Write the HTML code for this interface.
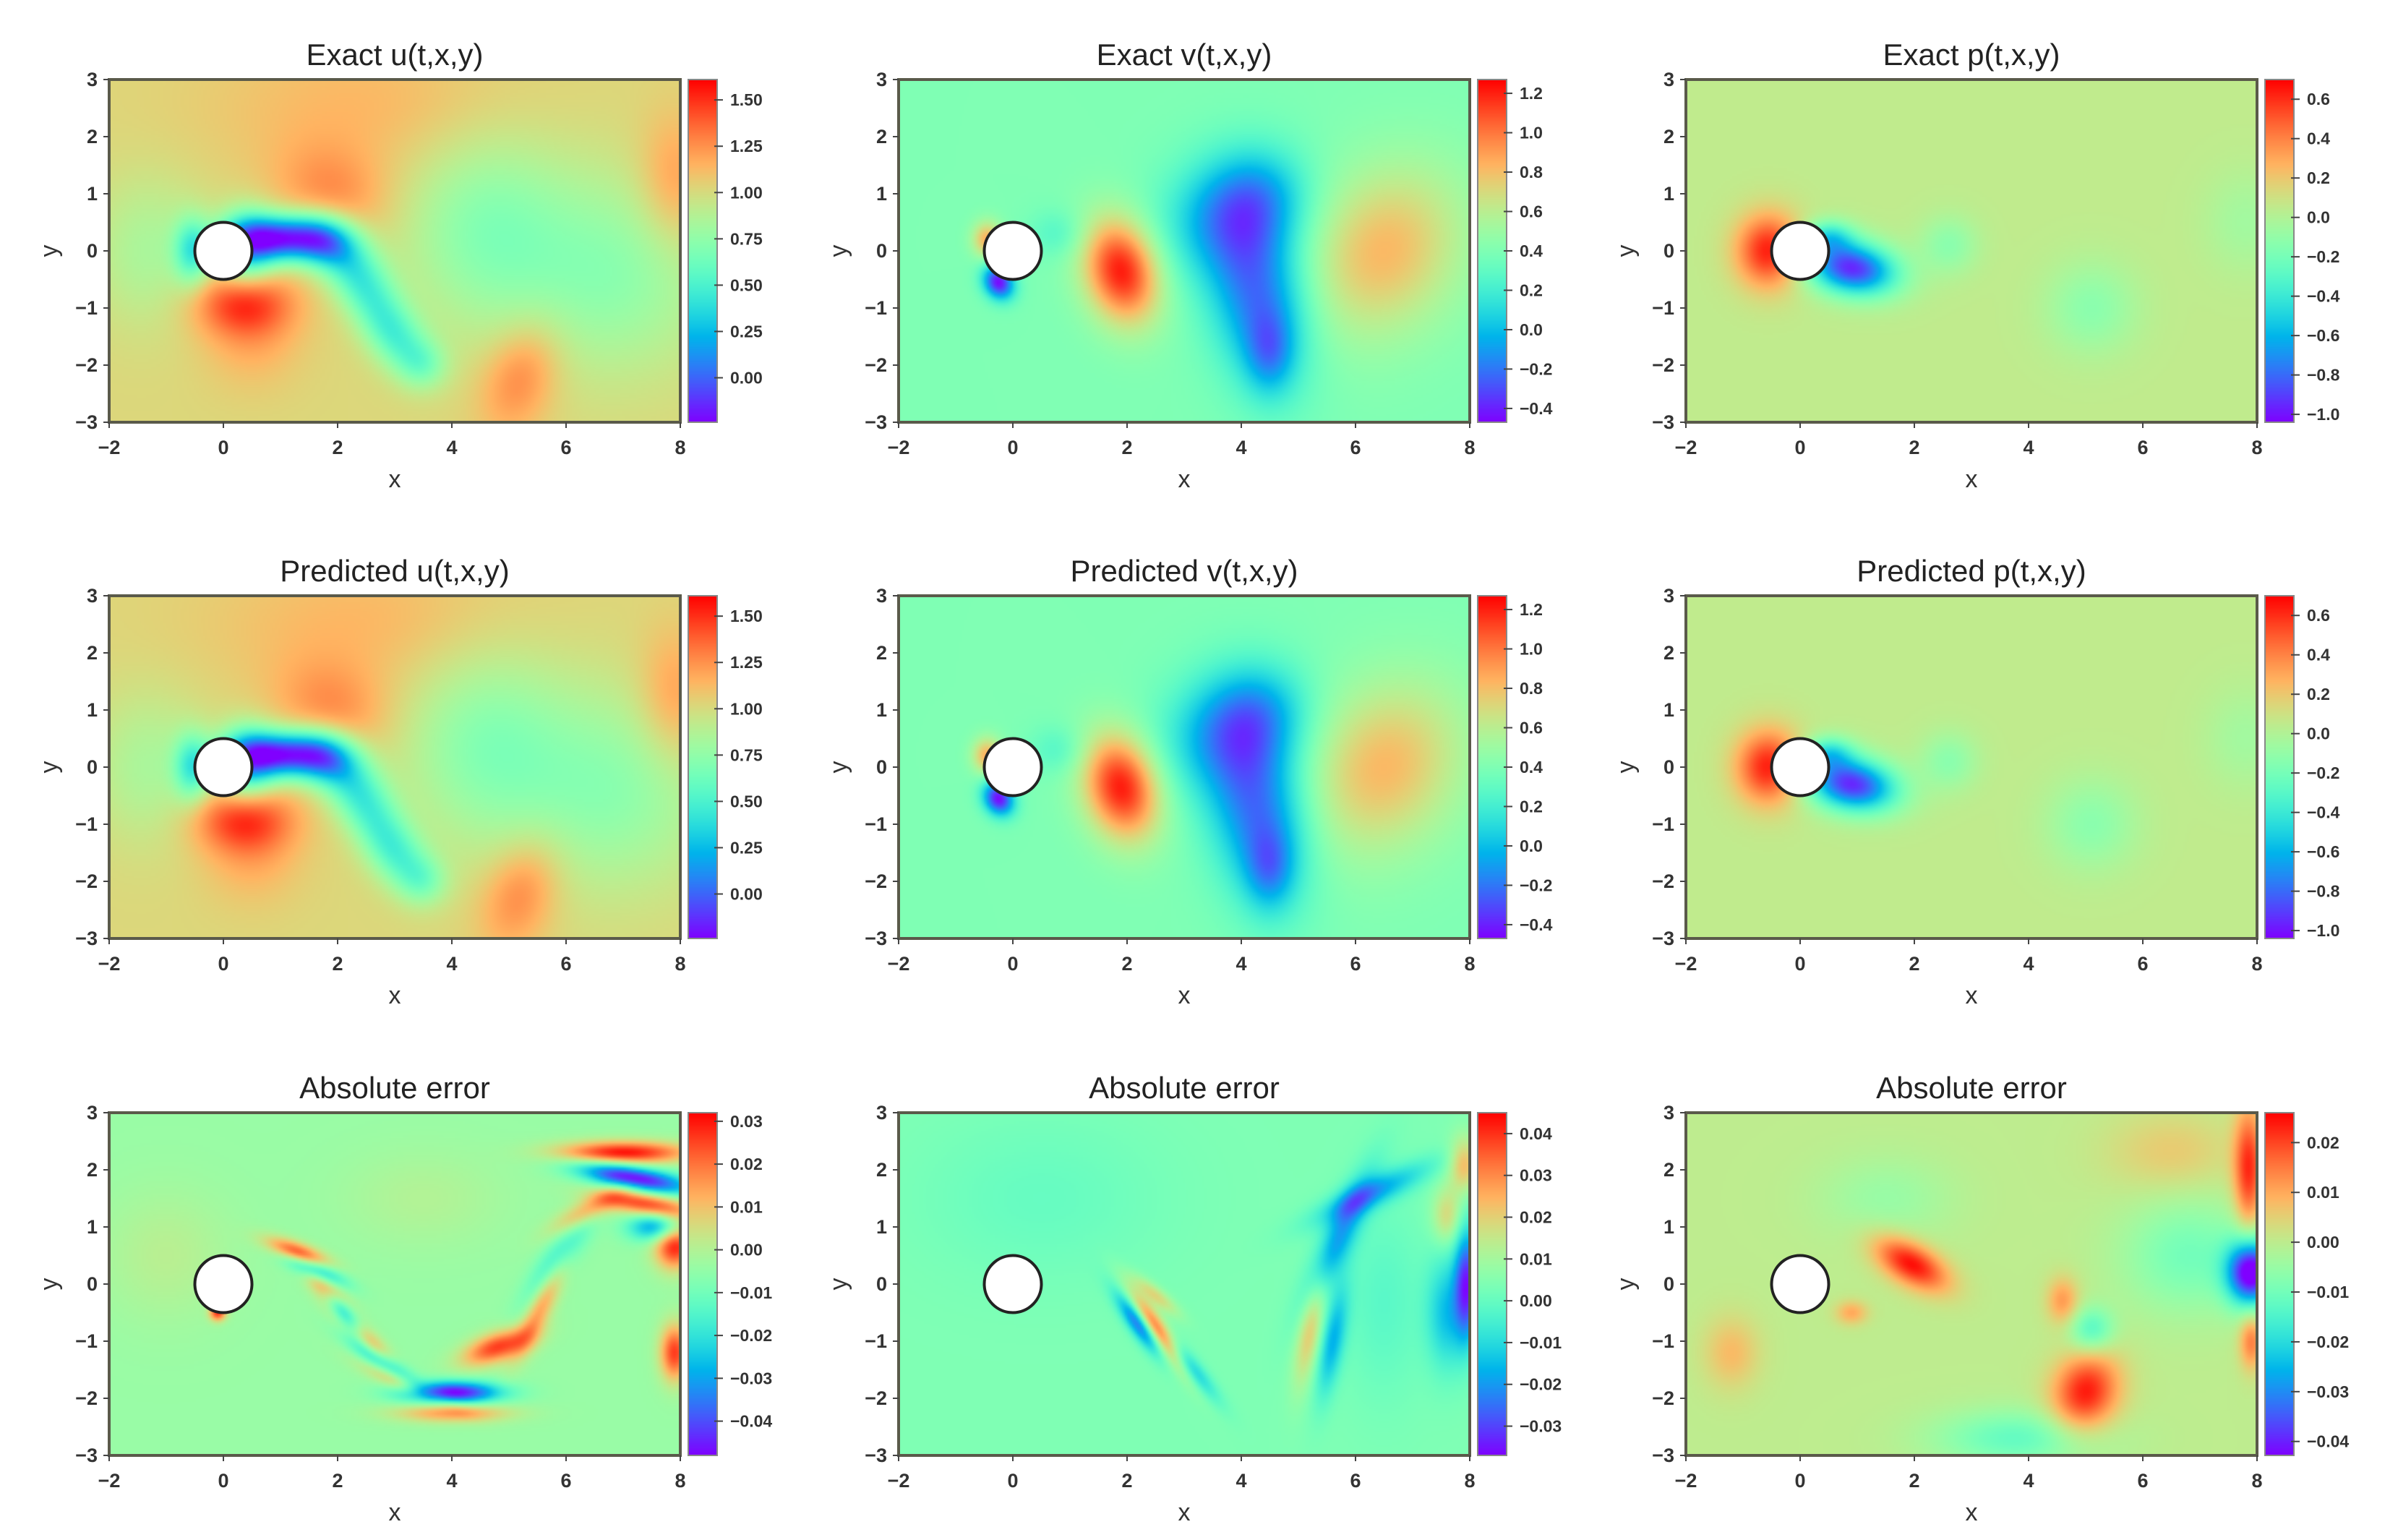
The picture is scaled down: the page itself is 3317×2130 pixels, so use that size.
<!DOCTYPE html>
<html><head><meta charset="utf-8">
<style>
html,body{margin:0;padding:0;background:#fff;}
#root{position:relative;width:3317px;height:2130px;overflow:hidden;background:#fff;font-family:"Liberation Sans",sans-serif;}
canvas{position:absolute;}
svg{position:absolute;left:0;top:0;}
</style></head>
<body>
<div id="root"></div>
<script>
// ---- data (rows: [x, y, sigmaX, sigmaY, angleDeg, amplitude]) ----
const uBase = 1.02;
const uBlobs = [
[1.0,0.22,0.6,0.28,0,-1.1],[0.4,0.05,0.35,0.45,0,-0.6],[1.8,0.15,0.4,0.32,-20,-0.65],
[2.3,-0.35,0.45,0.35,-55,-0.4],[2.7,-1.0,0.5,0.33,-60,-0.35],[3.1,-1.6,0.45,0.33,-55,-0.35],
[3.5,-2.0,0.3,0.3,0,-0.25],
[-0.55,0,0.22,0.4,0,-0.5],[0.35,-0.9,0.6,0.4,0,0.45],[0.5,-1.5,0.6,0.6,0,0.15],
[1.9,1.05,0.7,0.55,-20,0.22],[4.6,0.4,1.0,1.2,0,-0.3],[6.8,-0.4,1.2,1.2,0,-0.28],
[5.2,-2.2,0.45,0.7,-20,0.28],[7.9,1.2,0.45,0.8,0,0.22],[-1.3,0.0,0.7,0.9,0,-0.18],[2.5,2.5,2.0,0.9,0,0.12]];
const vBase = 0.4;
const vBlobs = [
[1.9,-0.35,0.45,0.65,15,0.82],[-0.45,0.2,0.18,0.22,0,0.45],[-0.25,-0.55,0.18,0.22,30,-0.85],
[4.3,-0.8,0.6,1.1,10,-0.6],[3.7,0.6,0.8,0.7,30,-0.4],[4.4,1.0,0.6,0.6,0,-0.25],
[4.5,-1.8,0.3,0.5,0,-0.3],
[6.5,0.0,0.9,1.1,-35,0.42],[0.8,0.3,0.35,0.3,0,-0.15]];
const pBase = 0.05;
const pBlobs = [
[-0.55,0.0,0.4,0.45,0,0.6],[0.9,-0.3,0.55,0.32,-10,-1.0],[0.5,0.25,0.3,0.2,0,-0.4],
[2.6,0.1,0.35,0.35,0,-0.18],[5.1,-1.0,0.55,0.55,0,-0.18],[7.8,0.5,0.5,0.6,0,-0.1]];
const euBase = -0.004;
const euBlobs = [
[1.3,0.55,0.4,0.12,-20,0.03],[1.6,0.25,0.4,0.12,-25,-0.028],[1.8,-0.05,0.35,0.13,-45,0.03],
[2.1,-0.5,0.45,0.12,-55,-0.03],[2.5,-1.0,0.55,0.13,-45,0.025],[2.9,-1.45,0.55,0.12,-35,-0.03],
[3.2,-1.75,0.55,0.12,-25,0.02],[4.0,-1.9,0.6,0.14,0,-0.045],[4.0,-2.25,0.7,0.12,0,0.02],
[4.8,-1.1,0.45,0.18,20,0.03],[5.6,-0.3,0.15,0.7,-25,0.02],[5.9,0.5,0.18,0.7,-35,-0.018],
[6.4,1.3,0.5,0.15,30,0.02],[7.0,2.3,0.8,0.14,0,0.035],[7.2,1.85,0.7,0.15,-10,-0.045],
[7.4,1.4,0.6,0.15,-10,0.03],[7.6,1.0,0.35,0.18,0,-0.03],[7.9,0.7,0.25,0.3,0,0.035],
[7.9,-1.2,0.18,0.35,0,0.03],[-0.1,-0.5,0.1,0.1,0,0.03],[-1.0,0.5,0.8,0.8,0,0.005],[3.5,1.5,1.0,0.6,0,0.004]];
const evBase = 0.004;
const evBlobs = [
[2.2,-0.7,0.45,0.12,-55,-0.03],[2.6,-0.9,0.6,0.12,-55,0.04],[3.0,-1.35,0.55,0.12,-50,-0.025],
[2.5,-0.2,0.35,0.1,-40,0.015],[5.7,0.8,0.2,0.9,-25,-0.022],[6.3,1.6,0.8,0.18,25,-0.02],
[5.2,-0.8,0.15,0.7,-10,0.018],[5.6,-1.0,0.15,0.7,-10,-0.02],[7.6,-0.5,0.25,0.7,0,-0.018],
[7.95,0.0,0.15,0.7,0,-0.035],[7.9,2.1,0.18,0.35,0,0.02],[7.6,1.2,0.18,0.35,0,0.015],
[6.5,-0.3,0.5,1.2,0,-0.006],[0.5,1.5,1.5,1.0,0,-0.004]];
const epBase = 0.0;
const epBlobs = [
[1.95,0.35,0.5,0.25,-30,0.025],[7.9,0.2,0.3,0.4,0,-0.045],[7.85,2.0,0.18,0.75,0,0.022],
[7.9,-1.0,0.15,0.35,0,0.015],[5.0,-1.9,0.4,0.5,-20,0.024],[5.1,-0.8,0.28,0.28,0,-0.014],
[3.8,-2.7,1.0,0.35,0,-0.012],[6.8,0.5,0.8,0.7,0,-0.01],[4.6,-0.3,0.2,0.3,0,0.012],
[0.9,-0.5,0.2,0.15,0,0.01],[-1.2,-1.2,0.35,0.45,0,0.008],[1.5,1.5,0.8,0.5,0,-0.005],[6.5,2.3,0.8,0.5,0,0.006]];
const titles = ["Exact u(t,x,y)","Exact v(t,x,y)","Exact p(t,x,y)","Predicted u(t,x,y)","Predicted v(t,x,y)","Predicted p(t,x,y)","Absolute error","Absolute error","Absolute error"];
const vmins = [-0.24,-0.47,-1.04,-0.24,-0.47,-1.04,-0.048,-0.037,-0.0428];
const vmaxs = [1.61,1.27,0.70,1.61,1.27,0.70,0.032,0.045,0.026];
const cbTicksU = ["0.00","0.25","0.50","0.75","1.00","1.25","1.50"];
const cbTicksV = ["-0.4","-0.2","0.0","0.2","0.4","0.6","0.8","1.0","1.2"];
const cbTicksP = ["-1.0","-0.8","-0.6","-0.4","-0.2","0.0","0.2","0.4","0.6"];
const cbTicksEU = ["-0.04","-0.03","-0.02","-0.01","0.00","0.01","0.02","0.03"];
const cbTicksEV = ["-0.03","-0.02","-0.01","0.00","0.01","0.02","0.03","0.04"];
const cbTicksEP = ["-0.04","-0.03","-0.02","-0.01","0.00","0.01","0.02"];
const xTicks = [-2,0,2,4,6,8];
const yTicks = [-3,-2,-1,0,1,2,3];

const fields = [[uBase,uBlobs],[vBase,vBlobs],[pBase,pBlobs],[uBase,uBlobs],[vBase,vBlobs],[pBase,pBlobs],[euBase,euBlobs],[evBase,evBlobs],[epBase,epBlobs]];
const cbTicks = [cbTicksU,cbTicksV,cbTicksP,cbTicksU,cbTicksV,cbTicksP,cbTicksEU,cbTicksEV,cbTicksEP];

// ---- layout ----
const colL = [151,1243,2332], rowT = [110,824,1539], PW = 790, PH = 474;
const X0=-2,X1=8,Y0=-3,Y1=3;
const NS = "http://www.w3.org/2000/svg";
const root = document.getElementById('root');
const svg = document.createElementNS(NS,'svg');
svg.setAttribute('width','3317');svg.setAttribute('height','2130');



function cmap(t){t=Math.max(0,Math.min(1,t));
  const r=Math.min(1,Math.abs(2*t-0.5)),g=Math.sin(Math.PI*t),b=Math.cos(Math.PI*t/2);
  return [r*255,g*255,b*255];}
function evalField(base,blobs,x,y){let v=base;
  for(const b of blobs){const a=b[4]*Math.PI/180,dx=x-b[0],dy=y-b[1];
    const u=dx*Math.cos(a)+dy*Math.sin(a),w=-dx*Math.sin(a)+dy*Math.cos(a);
    v+=b[5]*Math.exp(-(u*u/(2*b[2]*b[2])+w*w/(2*b[3]*b[3])));}
  return v;}
function el(tag,attrs,parent){const e=document.createElementNS(NS,tag);for(const k in attrs)e.setAttribute(k,attrs[k]);(parent||svg).appendChild(e);return e;}

for(let i=0;i<9;i++){
  const L=colL[i%3],T=rowT[Math.floor(i/3)];
  const sx=x=>L+(x-X0)/(X1-X0)*PW, sy=y=>T+(Y1-y)/(Y1-Y0)*PH;
  const vmin=vmins[i],vmax=vmaxs[i];
  const g=el('g',{});
  
  
  const cv=document.createElement('canvas');const CW=240,CH=144;cv.width=CW;cv.height=CH;
  cv.style.left=L+'px';cv.style.top=T+'px';cv.style.width=PW+'px';cv.style.height=PH+'px';
  
  
  const ctx=cv.getContext('2d');const img=ctx.createImageData(CW,CH);
  const [base,blobs]=fields[i];
  for(let r=0;r<CH;r++)for(let c=0;c<CW;c++){
    const x=X0+(c+0.5)/CW*(X1-X0),y=Y1-(r+0.5)/CH*(Y1-Y0);
    const col=cmap((evalField(base,blobs,x,y)-vmin)/(vmax-vmin));const k=(r*CW+c)*4;
    img.data[k]=col[0];img.data[k+1]=col[1];img.data[k+2]=col[2];img.data[k+3]=255;}
  ctx.putImageData(img,0,0);root.appendChild(cv);
  const CBX=L+PW+11,CBW=40;
  const cb=document.createElement('canvas');cb.width=1;cb.height=200;
  cb.style.left=CBX+'px';cb.style.top=T+'px';cb.style.width=CBW+'px';cb.style.height=PH+'px';
  
  
  const cctx=cb.getContext('2d');
  for(let r=0;r<200;r++){const col=cmap(1-(r+0.5)/200);cctx.fillStyle=`rgb(${col[0]|0},${col[1]|0},${col[2]|0})`;cctx.fillRect(0,r,1,1);}
  root.appendChild(cb);
  el('rect',{x:CBX,y:T,width:CBW,height:PH,fill:'none',stroke:'#888','stroke-width':2},g);
  for(const lab of cbTicks[i]){const v=parseFloat(lab);const yy=T+(vmax-v)/(vmax-vmin)*PH;
    el('line',{x1:CBX+CBW-4,x2:CBX+CBW+8,y1:yy,y2:yy,stroke:'#444','stroke-width':2},g);
    const t=el('text',{x:CBX+CBW+18,y:yy+8,'font-size':23,'font-weight':'bold',fill:'#333'},g);
    t.textContent=lab.replace('-','\u2212');
    
    }
  el('rect',{x:L,y:T,width:PW,height:PH,fill:'none',stroke:'#5a5a4a','stroke-width':4},g);
  const circ=el('ellipse',{cx:sx(0),cy:sy(0),rx:0.5*PW/10,ry:0.5*PH/6,fill:'#fff',stroke:'#222','stroke-width':4},g);
  
  
  for(const xv of xTicks){const xx=sx(xv);
    el('line',{x1:xx,x2:xx,y1:T+PH,y2:T+PH+8,stroke:'#444','stroke-width':2},g);
    const t=el('text',{x:xx,y:T+PH+44,'font-size':27,'font-weight':'bold','text-anchor':'middle',fill:'#333'},g);
    t.textContent=String(xv).replace('-','\u2212');
    
    }
  for(const yv of yTicks){const yy=sy(yv);
    el('line',{x1:L-8,x2:L,y1:yy,y2:yy,stroke:'#444','stroke-width':2},g);
    const t=el('text',{x:L-16,y:yy+9,'font-size':27,'font-weight':'bold','text-anchor':'end',fill:'#333'},g);
    t.textContent=String(yv).replace('-','\u2212');
    
    }
  const tt=el('text',{x:L+PW/2,y:T-20,'font-size':42,'text-anchor':'middle',fill:'#222'},g);
  tt.textContent=titles[i];
  
  
  const xl=el('text',{x:L+PW/2,y:T+PH+90,'font-size':34,'text-anchor':'middle',fill:'#333'},g);
  xl.textContent='x';
  
  
  const yl=el('text',{x:0,y:0,'font-size':34,'text-anchor':'middle',fill:'#333',transform:`translate(${L-72},${T+PH/2}) rotate(-90)`},g);
  yl.textContent='y';
  
  
}
root.appendChild(svg);
</script>
</body></html>
